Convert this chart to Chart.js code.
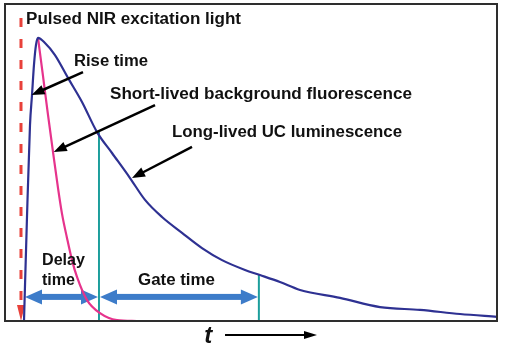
<!DOCTYPE html>
<html>
<head>
<meta charset="utf-8">
<script src="https://cdn.jsdelivr.net/npm/chart.js@4/dist/chart.umd.min.js"></script>
<style>
  html, body { margin: 0; padding: 0; background: #ffffff; }
  #wrap { width: 505px; height: 343px; position: relative; }
</style>
</head>
<body>
<div id="wrap"><canvas id="c"></canvas></div>
<script>
// Time axis (a.u., 0..100 across the frame) and intensity (a.u., 0..100 frame height)
const longTime  = [3.86, 4.47, 5.08, 5.49, 5.89, 6.30, 6.71, 8.13, 10.16, 12.80, 15.65, 18.70, 21.75, 25.41, 28.46, 31.91, 35.98, 40.04, 44.11, 48.78, 51.83, 55.89, 59.96, 68.09, 76.22, 84.35, 92.48, 100];
const longInt   = [0, 32.8, 61.8, 71.3, 80.8, 87.1, 89.3, 87.7, 83.9, 76.7, 69.1, 59.6, 53.0, 45.1, 38.2, 32.8, 27.8, 23.0, 19.2, 16.1, 14.5, 12.3, 9.8, 7.3, 4.4, 3.5, 2.2, 1.3];
const shortTime = [6.71, 7.72, 8.74, 9.76, 10.77, 11.59, 12.60, 13.62, 14.63, 16.67, 19.31, 22.76, 26.83];
const shortInt  = [89.3, 77.3, 65.0, 53.3, 42.0, 33.8, 26.2, 19.2, 13.9, 6.6, 2.5, 0.3, 0];
// Timing markers (same time units)
const pulseTime = 3.25;
const pulseTop = 95.6;
const delayStart = 3.86;
const delayEnd = 19.1;
const delayTop = 59.6;
const gateEnd = 51.6;
const gateTop = 14.6;
const arrowLevel = 7.6;

const longData = longTime.map((t, i) => ({x: t, y: longInt[i]}));
const shortData = shortTime.map((t, i) => ({x: t, y: shortInt[i]}));

function txt(ctx, s, x, y, font, w) {
  ctx.font = font;
  const m = ctx.measureText(s).width;
  ctx.save();
  ctx.translate(x, y);
  if (w) ctx.scale(w / m, 1);
  ctx.fillText(s, 0, 0);
  ctx.restore();
}
function head(ctx, x1, y1, x2, y2, len, wid) {
  const a = Math.atan2(y2 - y1, x2 - x1);
  ctx.beginPath();
  ctx.moveTo(x2, y2);
  ctx.lineTo(x2 - len * Math.cos(a) + wid / 2 * Math.sin(a), y2 - len * Math.sin(a) - wid / 2 * Math.cos(a));
  ctx.lineTo(x2 - len * Math.cos(a) - wid / 2 * Math.sin(a), y2 - len * Math.sin(a) + wid / 2 * Math.cos(a));
  ctx.closePath();
  ctx.fill();
}
function arrow(ctx, x1, y1, x2, y2, color, lw, len, wid) {
  const a = Math.atan2(y2 - y1, x2 - x1);
  ctx.strokeStyle = color; ctx.fillStyle = color; ctx.lineWidth = lw;
  ctx.beginPath();
  ctx.moveTo(x1, y1);
  ctx.lineTo(x2 - len * 0.8 * Math.cos(a), y2 - len * 0.8 * Math.sin(a));
  ctx.stroke();
  head(ctx, x1, y1, x2, y2, len, wid);
}
function dblArrow(ctx, x1, x2, y, color) {
  const len = 17, wid = 15, sh = 6;
  ctx.fillStyle = color;
  ctx.fillRect(x1 + len - 1, y - sh / 2, (x2 - x1) - 2 * len + 2, sh);
  head(ctx, x2, y, x1, y, len, wid);
  head(ctx, x1, y, x2, y, len, wid);
}

const deco = {
  id: 'deco',
  beforeDatasetsDraw(chart) {
    const ctx = chart.ctx, xs = chart.scales.x, ys = chart.scales.y;
    const X = v => xs.getPixelForValue(v), Y = v => ys.getPixelForValue(v);
    ctx.save();
    // gate lines
    ctx.strokeStyle = '#1c9e9c'; ctx.lineWidth = 2;
    [[delayEnd, delayTop], [gateEnd, gateTop]].forEach(([t, top]) => {
      ctx.beginPath(); ctx.moveTo(X(t), Y(top)); ctx.lineTo(X(t), Y(0)); ctx.stroke();
    });
    // excitation pulse
    ctx.strokeStyle = '#e8413a'; ctx.lineWidth = 3; ctx.setLineDash([9, 12]);
    ctx.beginPath(); ctx.moveTo(X(pulseTime), Y(pulseTop)); ctx.lineTo(X(pulseTime), Y(0) - 14); ctx.stroke();
    ctx.setLineDash([]);
    ctx.fillStyle = '#e8413a';
    head(ctx, X(pulseTime), Y(pulseTop), X(pulseTime), Y(0), 16, 8);
    // delay / gate arrows
    dblArrow(ctx, X(delayStart) + 1, X(delayEnd) - 1, Y(arrowLevel), '#3d7cc9');
    dblArrow(ctx, X(delayEnd) + 1, X(gateEnd) - 1, Y(arrowLevel), '#3d7cc9');
    ctx.restore();
  },
  afterDatasetsDraw(chart) {
    const ctx = chart.ctx, xs = chart.scales.x, ys = chart.scales.y, ca = chart.chartArea;
    const X = v => xs.getPixelForValue(v), Y = v => ys.getPixelForValue(v);
    ctx.save();
    // frame
    ctx.strokeStyle = '#2e2e2e'; ctx.lineWidth = 2;
    ctx.strokeRect(ca.left, ca.top, ca.right - ca.left, ca.bottom - ca.top);
    // pointer arrows
    arrow(ctx, X(15.85), Y(78.5), X(5.40), Y(71.3), '#000', 2.5, 13, 10);
    arrow(ctx, X(30.49), Y(68.1), X(9.90), Y(53.3), '#000', 2.5, 13, 10);
    arrow(ctx, X(38.01), Y(54.9), X(25.81), Y(45.1), '#000', 2.5, 13, 10);
    // time arrow
    arrow(ctx, X(44.72), Y(-4.4), X(63.41), Y(-4.4), '#000', 2, 13, 8);
    // labels
    ctx.fillStyle = '#111'; ctx.textBaseline = 'middle'; ctx.textAlign = 'left';
    const f = 'bold 16px "Liberation Sans", Arial, sans-serif';
    txt(ctx, 'Pulsed NIR excitation light', X(4.27), Y(94.95), f, 215);
    txt(ctx, 'Rise time', X(14.02), Y(81.7), f, 74);
    txt(ctx, 'Short-lived background fluorescence', X(21.34), Y(71.3), f, 302);
    txt(ctx, 'Long-lived UC luminescence', X(33.94), Y(59.3), f, 230);
    txt(ctx, 'Delay', X(7.52), Y(19.2), f, 43);
    txt(ctx, 'time', X(7.52), Y(12.9), f, 33);
    txt(ctx, 'Gate time', X(27.03), Y(12.9), f, 77);
    txt(ctx, 't', X(40.5), Y(-4.9), 'italic bold 24px "Liberation Sans", Arial, sans-serif');
    ctx.restore();
  }
};

new Chart(document.getElementById('c'), {
  type: 'scatter',
  data: {
    datasets: [
      { label: 'Long-lived UC luminescence', data: longData, showLine: true, borderColor: '#2e3192', borderWidth: 2.2, pointRadius: 0, cubicInterpolationMode: 'monotone', clip: false },
      { label: 'Short-lived background fluorescence', data: shortData, showLine: true, borderColor: '#e6338c', borderWidth: 2.2, pointRadius: 0, cubicInterpolationMode: 'monotone', clip: false }
    ]
  },
  options: {
    responsive: true,
    maintainAspectRatio: false,
    animation: false,
    devicePixelRatio: 1,
    layout: { padding: { left: 5, right: 8, top: 4, bottom: 22 } },
    plugins: { legend: { display: false }, tooltip: { enabled: false } },
    scales: {
      x: { type: 'linear', min: 0, max: 100, display: false },
      y: { type: 'linear', min: 0, max: 100, display: false }
    }
  },
  plugins: [deco]
});
</script>
</body>
</html>
